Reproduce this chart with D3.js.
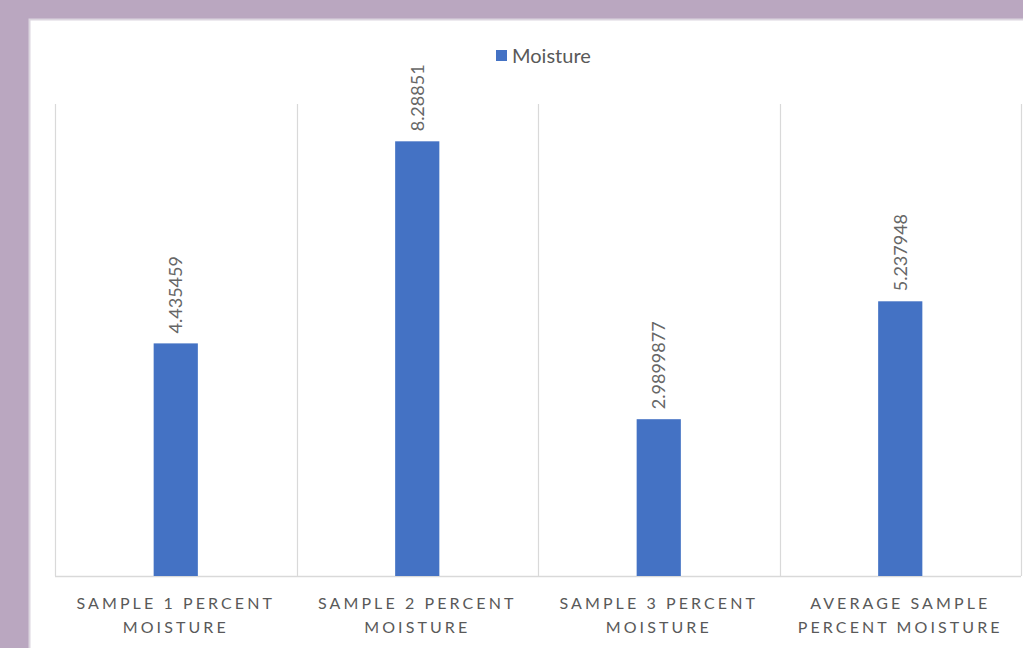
<!DOCTYPE html>
<html>
<head>
<meta charset="utf-8">
<script src="https://cdn.jsdelivr.net/npm/d3@7"></script>
<style>
  html, body { margin: 0; padding: 0; background: #baa7c0; }
  svg { display: block; }
</style>
</head>
<body>
<svg id="chart" width="1023" height="648"></svg>
<script>
// Moisture readings per sample
const categories = [
  ["SAMPLE 1 PERCENT", "MOISTURE"],
  ["SAMPLE 2 PERCENT", "MOISTURE"],
  ["SAMPLE 3 PERCENT", "MOISTURE"],
  ["AVERAGE SAMPLE", "PERCENT MOISTURE"]
];
const moisture = [4.435459, 8.28851, 2.9899877, 5.237948];
const valueLabels = ["4.435459", "8.28851", "2.9899877", "5.237948"];
const seriesName = "Moisture";

const W = 1023, H = 648;
const svg = d3.select("#chart");
const font = "Lato, 'Open Sans', sans-serif";
const textColor = "#595959";
const barColor = "#4472c4";

// white chart panel
svg.append("rect").attr("x", 29.5).attr("y", 19.5).attr("width", W).attr("height", H)
  .attr("fill", "#ffffff").attr("stroke", "#dcd6df").attr("stroke-width", 2);

const plot = { left: 55, right: 1021, top: 104, bottom: 576 };

const x = d3.scaleBand().domain(d3.range(categories.length))
  .range([plot.left, plot.right]).paddingInner(0).paddingOuter(0);
const y = d3.scaleLinear().domain([0, 9]).range([plot.bottom, plot.top]);

// vertical category separators
const seps = d3.range(categories.length + 1).map(i => i < categories.length ? x(i) : plot.right);
svg.append("g").selectAll("line").data(seps).join("line")
  .attr("x1", d => Math.round(d) + 0.5).attr("x2", d => Math.round(d) + 0.5)
  .attr("y1", plot.top).attr("y2", plot.bottom)
  .attr("stroke", "#d9d9d9").attr("stroke-width", 1.2);

// baseline
svg.append("line").attr("x1", plot.left).attr("x2", plot.right)
  .attr("y1", y(0) + 0.5).attr("y2", y(0) + 0.5)
  .attr("stroke", "#d9d9d9").attr("stroke-width", 1.5);

// bars
const barW = x.bandwidth() * 0.183;
svg.append("g").selectAll("rect").data(moisture).join("rect")
  .attr("x", (d, i) => x(i) + x.bandwidth() / 2 - barW / 2)
  .attr("y", d => y(d))
  .attr("width", barW)
  .attr("height", d => y(0) - y(d))
  .attr("fill", barColor);

// rotated value labels
svg.append("g").selectAll("text").data(moisture).join("text")
  .attr("transform", (d, i) => `translate(${x(i) + x.bandwidth() / 2 + 6.5},${y(d) - 10}) rotate(-90)`)
  .attr("font-family", font).attr("font-size", 18).attr("fill", "#666666")
  .attr("text-anchor", "start")
  .text((d, i) => valueLabels[i]);

// category labels
const cat = svg.append("g").selectAll("text").data(categories).join("text")
  .attr("x", (d, i) => x(i) + x.bandwidth() / 2)
  .attr("y", 609)
  .attr("text-anchor", "middle")
  .attr("font-family", font).attr("font-size", 16).attr("fill", textColor)
  .attr("letter-spacing", "3.1px");
cat.selectAll("tspan").data(d => d).join("tspan")
  .attr("x", function () { return d3.select(this.parentNode).attr("x"); })
  .attr("dy", (d, j) => j === 0 ? 0 : 24)
  .text(d => d);

// legend
const lg = svg.append("g");
lg.append("rect").attr("x", 496).attr("y", 50).attr("width", 11).attr("height", 11).attr("fill", barColor);
lg.append("text").attr("x", 512).attr("y", 63)
  .attr("font-family", font).attr("font-size", 20).attr("fill", textColor)
  .text(seriesName);
</script>
</body>
</html>
